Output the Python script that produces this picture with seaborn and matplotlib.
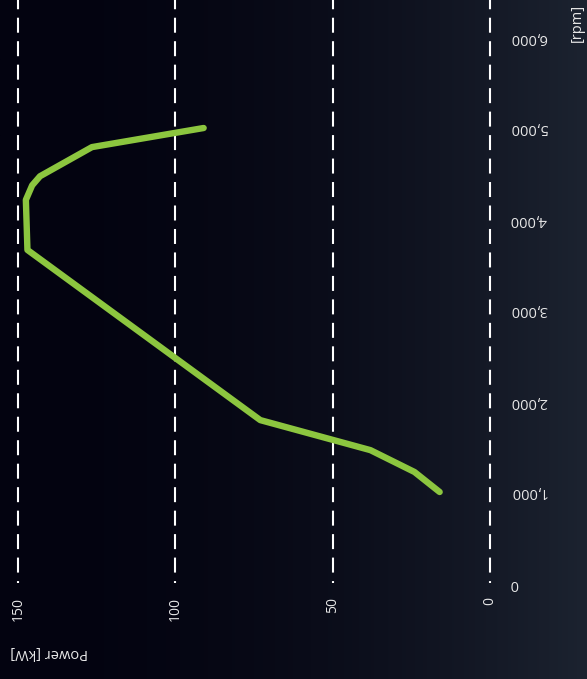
import numpy as np
import pandas as pd
import matplotlib
matplotlib.use("Agg")
import matplotlib.pyplot as plt
import seaborn as sns

# ---- data ----
rpm = [1000, 1220, 1460, 1790, 3660, 4210, 4370, 4470, 4790, 5000]
power_kw = [16, 24, 38, 73, 147, 147.5, 145.5, 143, 126.5, 91]
power_ticks = [0, 50, 100, 150]
rpm_ticks = [0, 1000, 2000, 3000, 4000, 5000, 6000]
rpm_tick_labels = ["0", "1,000", "2,000", "3,000", "4,000", "5,000", "6,000"]

sns.set_theme(style="dark")
plt.rcParams['font.family'] = ['Open Sans', 'DejaVu Sans']
plt.rcParams['lines.scale_dashes'] = False

W, H = 587, 679
fig = plt.figure(figsize=(W / 100, H / 100), dpi=100)

# background gradient
bg = fig.add_axes([0, 0, 1, 1], zorder=0)
t = np.linspace(0, 1, 400)
g = t ** 2.0
c0 = np.array([3, 3, 16]) / 255
c1 = np.array([28, 35, 48]) / 255
row = c0[None, :] * (1 - g[:, None]) + c1[None, :] * g[:, None]
img = np.repeat(row[None, :, :], 10, axis=0)
bg.imshow(img, aspect='auto', extent=[0, 1, 0, 1])
bg.set_axis_off()

# main axes: px 5..500 horizontally, 0..583 vertically
left_px, right_px, top_px, bot_px = 5, 500, 0, 583
ax = fig.add_axes([left_px / W, 1 - bot_px / H, (right_px - left_px) / W, (bot_px - top_px) / H], zorder=1)
ax.patch.set_alpha(0)
kw_per_px = 150 / (490 - 18)
ax.set_xlim(150 + (18 - left_px) * kw_per_px, 0 - (right_px - 490) * kw_per_px)
ax.set_ylim(0, 583 / 91 * 1000)

for p in power_ticks:
    ax.axvline(p, color='white', lw=1.5, linestyle=(9.4, (10.8, 6.1)), zorder=1)

df = pd.DataFrame({"power": power_kw, "rpm": rpm})
sns.lineplot(data=df, x="power", y="rpm", sort=False, estimator=None, ax=ax,
             color='#8cc63f', lw=4.6, solid_joinstyle='round', solid_capstyle='round', zorder=3)

for s in ax.spines.values():
    s.set_visible(False)
ax.grid(False)

tick_color = '#e8e8e8'
ax.set_xticks(power_ticks)
ax.set_xticklabels([str(p) for p in power_ticks], rotation=90, color=tick_color, fontsize=10)
ax.tick_params(axis='x', length=0, pad=10)

ax.yaxis.tick_right()
ax.set_yticks(rpm_ticks)
ax.set_yticklabels(rpm_tick_labels, rotation=180, color=tick_color, fontsize=10.5)
ax.tick_params(axis='y', length=0, pad=7)
for lab in ax.get_yticklabels():
    lab.set_verticalalignment('center')

ax.set_xlabel("")
ax.set_ylabel("")

fig.text(10 / W, 1 - 645 / H, "Power [kW]", rotation=180, ha='left', va='top',
         color=tick_color, fontsize=10.5)
fig.text(577 / W, 1 - 42 / H, "[rpm]", rotation=90, ha='center', va='bottom',
         color=tick_color, fontsize=10.5)

fig.savefig("out.png", dpi=100)
